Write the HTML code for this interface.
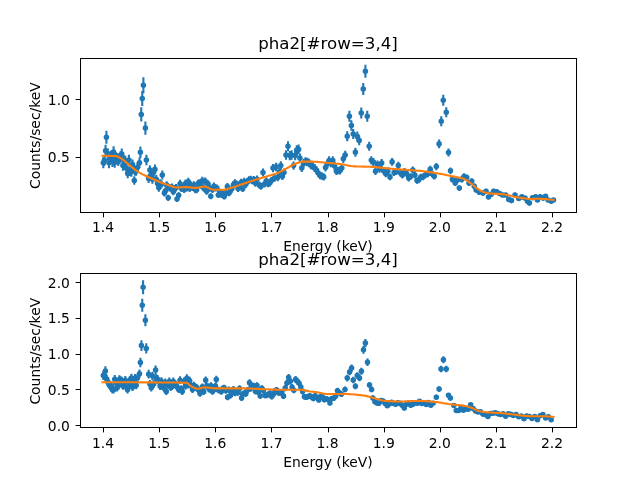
<!DOCTYPE html>
<html lang="en">
<head>
<meta charset="utf-8">
<title>pha2[#row=3,4]</title>
<style>
html,body{margin:0;padding:0;background:#fff;}
body{width:640px;height:480px;overflow:hidden;}
svg{display:block;font-family:"DejaVu Sans","Liberation Sans",sans-serif;}
.eb{fill:none;stroke:#1f77b4;stroke-width:2.08;}
.mk circle{fill:#1f77b4;stroke:#1f77b4;stroke-width:1.39;}
.md{fill:none;stroke:#ff7f0e;stroke-width:2.08;stroke-linejoin:round;stroke-linecap:square;}
.tk{fill:none;stroke:#000;stroke-width:1;}
.sp{fill:none;stroke:#000;stroke-width:1;}
.t10{font-size:13.889px;fill:#000;}
.t12{font-size:16.667px;fill:#000;}
.mid{text-anchor:middle;}
.end{text-anchor:end;}
</style>
</head>
<body>
<svg width="640" height="480" viewBox="0 0 640 480">
<rect width="640" height="480" fill="#fff"/>
<g class="ax">
<path class="eb" d="M103.3 157.37V168.32 M104.43 154.68V165.86 M105.56 144.71V156.71 M106.4 130.71V143.79 M107.84 148.62V160.27 M108.98 157.25V168.13 M110.12 151.3V162.69 M111.27 150.52V161.96 M112.43 156.16V167.09 M113.58 146.13V157.9 M114.74 157.03V167.85 M115.9 152.24V163.46 M117.07 152.99V164.13 M118.24 155.01V165.95 M119.41 153.05V164.15 M120.59 151.24V162.47 M121.77 148.42V159.87 M122.95 160.38V170.78 M124.14 155.41V166.24 M125.33 155.69V166.48 M126.52 163.16V173.26 M127.72 168.74V178.3 M128.92 154.67V165.49 M130.12 166.23V176 M131.33 167.07V176.75 M132.54 159.47V169.83 M134.3 176.14V184.86 M134.97 166.05V175.78 M136.2 166.04V175.75 M137.42 162.51V172.53 M139.5 157.53V167.97 M140.4 146.59V157.91 M141.25 107.36V121.44 M142.25 90.97V106.03 M143.4 77.34V93.16 M145.4 121.56V134.64 M146.4 154.71V165.29 M148.62 174.23V182.99 M149.89 165.15V174.78 M151.15 170.48V179.59 M152.42 175.04V183.68 M153.7 167.66V177.01 M154.98 164.53V174.15 M156.26 175.05V183.65 M157.55 179.54V187.65 M158.84 184.05V191.65 M160.13 179.37V187.47 M161.43 180.17V188.18 M162.3 170.61V179.59 M164.4 189.66V196.54 M165.35 187.52V194.65 M166.67 181.15V189 M168.2 194.71V200.89 M169.31 184.09V191.58 M170.64 184.38V191.83 M171.97 183.48V191.02 M173.3 188.15V195.14 M174.64 185.05V192.39 M175.99 184.03V191.47 M177 196.15V202.05 M178.69 192.13V198.57 M180.04 179.73V187.61 M181.4 184.76V192.07 M182.77 183.72V191.13 M184.14 185.91V193.07 M185.51 179.53V187.37 M186.89 184.21V191.54 M188.27 177.7V185.71 M189.66 184.66V191.91 M191.05 181.6V189.17 M192.45 183.61V190.95 M193.85 181.35V188.93 M195.25 186.1V193.14 M196.66 186.22V193.23 M198.07 179.67V187.38 M199.49 179.32V187.05 M200.91 181.09V188.63 M202.34 176.82V184.78 M203.77 184.73V191.86 M205.21 177.43V185.3 M206.65 187.99V194.71 M208.1 180.19V187.75 M209.55 184.64V191.72 M210.75 193.27V199.33 M212.47 186.16V193.05 M213.93 182.62V189.88 M215.4 184.48V191.53 M216.87 184.46V191.51 M218.35 191.91V198.08 M219.84 188.72V195.26 M221.33 191.6V197.78 M222.82 190.5V196.81 M224.2 193.54V199.46 M225.83 189.95V196.3 M227.33 183.03V190.14 M228.85 189.99V196.32 M230.37 187.76V194.33 M231.89 185.25V192.09 M233.42 181.09V188.35 M234.96 179.36V186.78 M236.5 180.41V187.71 M238.04 185.18V191.97 M239.59 181.03V188.24 M241.15 178.7V186.13 M242.71 185.34V192.08 M244.27 177.86V185.34 M245.84 180.77V187.95 M247.42 177.74V185.21 M249 176.28V183.87 M250.59 175.72V183.35 M252.18 176.82V184.34 M253.78 175.92V183.5 M255.38 179.5V186.74 M256.99 175.56V183.15 M259.25 181.5V188.5 M261 182.82V189.68 M263 168.42V176.58 M264.6 180.47V187.53 M266.3 177.32V184.68 M267.9 180.22V187.28 M269.7 179.54V186.66 M271.4 176.93V184.27 M273 163.88V172.32 M274.6 174.22V181.78 M276.1 162.65V171.15 M277.7 173.71V181.29 M279.3 167.97V176.03 M280.8 161.32V169.88 M282.4 172.42V180.08 M284 168.52V176.48 M286 150.34V159.66 M288 141.3V151.2 M289.8 150.98V160.22 M291.6 150.37V159.63 M293.6 161.38V169.82 M295.2 151.01V160.19 M296.75 145.22V154.78 M298.6 144.61V154.19 M299.9 153.52V162.48 M301.8 163.91V172.09 M303.6 158.72V167.28 M305.5 157.18V165.82 M307.3 157.7V166.3 M309.1 158.75V167.25 M310.9 160.83V169.17 M312.7 161.88V170.12 M314.6 163.97V172.03 M316.4 166.05V173.95 M318.2 169.18V176.82 M320 171.9V179.3 M321.8 172.32V179.68 M323.7 173.27V180.53 M325.5 163.49V171.51 M327.3 159.87V168.13 M329.1 156.35V164.85 M330.9 158.85V167.15 M332.8 156.37V164.83 M334.6 161.97V170.03 M336.4 167.44V175.06 M338.2 166.66V174.34 M340 166.77V174.43 M341.8 164.08V171.92 M343.3 154.5V163 M345.2 150.63V159.37 M347.25 131.3V141.2 M349.4 110.75V121.75 M351.4 120.16V130.64 M353.25 129.01V138.99 M355.4 147.83V156.67 M357.3 131.61V141.39 M359.2 135.84V145.36 M361.25 107.59V118.61 M363.25 82.91V95.09 M365.4 64.78V77.72 M367.25 110.85V121.65 M369.2 141.71V150.79 M371.3 156.22V164.38 M373.4 157.99V166.01 M375.5 167.59V174.91 M377.5 160.49V168.31 M379.6 165.27V172.73 M381.7 159.06V166.94 M383.8 167.36V174.64 M385.8 170.22V177.28 M387.9 167.37V174.63 M390 173.51V180.29 M392.1 157.96V165.84 M394.1 168.95V176.05 M396.2 167.92V175.08 M398.3 161.81V169.39 M400.4 169.49V176.51 M402.4 171.58V178.42 M404.5 167.95V175.05 M406.6 170.04V176.96 M408.7 174.82V181.38 M410.7 173.17V179.83 M412.8 166.43V173.57 M414.9 171.62V178.38 M417 177.45V183.75 M418.6 176.83V183.17 M420.8 173.72V180.28 M423 173.62V180.18 M425.4 171.66V178.34 M427.9 170.37V177.13 M430.25 165.86V172.94 M432.3 170.64V177.36 M434.25 172.98V179.52 M436.3 162.99V170.21 M439.1 139.59V148.21 M441.25 116.35V126.15 M443.25 94.86V105.64 M446.25 107.15V117.35 M448.5 148.48V156.52 M450.5 167.38V174.22 M452.4 176.31V182.49 M455.25 180.17V186.03 M457.4 176.95V183.05 M459.3 185.4V190.8 M461.75 176.34V182.46 M464 173.33V179.67 M466.75 174.38V180.62 M469 180.21V185.99 M471.75 178.29V184.21 M474.25 183.5V189 M476.1 187.43V192.57 M479.25 189.79V194.71 M483 190.69V195.51 M486.1 188.76V193.74 M488.5 194.8V199.2 M491.1 192.07V196.73 M493.6 188.78V193.72 M496.75 189.46V194.34 M499.6 191.15V195.85 M502.5 192.73V197.27 M505.6 192.73V197.27 M508.75 197.37V201.43 M511.5 198.65V202.55 M515 192.75V197.25 M518.75 196.44V200.56 M521.9 194.76V199.04 M525 196.03V200.17 M527.5 199.37V203.13 M529.4 201.33V204.87 M532.5 195.68V199.82 M535.6 194.79V199.01 M537.5 198.06V201.94 M540.25 194.8V199 M543.1 196.07V200.13 M545.6 194.13V198.37 M548.1 198.08V201.92 M551.25 199.41V203.09 M553.5 198.09V201.91"/>
<g class="mk"><circle cx="103.3" cy="162.84" r="2.08"/><circle cx="104.43" cy="160.27" r="2.08"/><circle cx="105.56" cy="150.71" r="2.08"/><circle cx="106.4" cy="137.25" r="2.08"/><circle cx="107.84" cy="154.45" r="2.08"/><circle cx="108.98" cy="162.69" r="2.08"/><circle cx="110.12" cy="156.99" r="2.08"/><circle cx="111.27" cy="156.24" r="2.08"/><circle cx="112.43" cy="161.62" r="2.08"/><circle cx="113.58" cy="152.01" r="2.08"/><circle cx="114.74" cy="162.44" r="2.08"/><circle cx="115.9" cy="157.85" r="2.08"/><circle cx="117.07" cy="158.56" r="2.08"/><circle cx="118.24" cy="160.48" r="2.08"/><circle cx="119.41" cy="158.6" r="2.08"/><circle cx="120.59" cy="156.86" r="2.08"/><circle cx="121.77" cy="154.15" r="2.08"/><circle cx="122.95" cy="165.58" r="2.08"/><circle cx="124.14" cy="160.82" r="2.08"/><circle cx="125.33" cy="161.08" r="2.08"/><circle cx="126.52" cy="168.21" r="2.08"/><circle cx="127.72" cy="173.52" r="2.08"/><circle cx="128.92" cy="160.08" r="2.08"/><circle cx="130.12" cy="171.11" r="2.08"/><circle cx="131.33" cy="171.91" r="2.08"/><circle cx="132.54" cy="164.65" r="2.08"/><circle cx="134.3" cy="180.5" r="2.08"/><circle cx="134.97" cy="170.92" r="2.08"/><circle cx="136.2" cy="170.9" r="2.08"/><circle cx="137.42" cy="167.52" r="2.08"/><circle cx="139.5" cy="162.75" r="2.08"/><circle cx="140.4" cy="152.25" r="2.08"/><circle cx="141.25" cy="114.4" r="2.08"/><circle cx="142.25" cy="98.5" r="2.08"/><circle cx="143.4" cy="85.25" r="2.08"/><circle cx="145.4" cy="128.1" r="2.08"/><circle cx="146.4" cy="160" r="2.08"/><circle cx="148.62" cy="178.61" r="2.08"/><circle cx="149.89" cy="169.96" r="2.08"/><circle cx="151.15" cy="175.03" r="2.08"/><circle cx="152.42" cy="179.36" r="2.08"/><circle cx="153.7" cy="172.33" r="2.08"/><circle cx="154.98" cy="169.34" r="2.08"/><circle cx="156.26" cy="179.35" r="2.08"/><circle cx="157.55" cy="183.59" r="2.08"/><circle cx="158.84" cy="187.85" r="2.08"/><circle cx="160.13" cy="183.42" r="2.08"/><circle cx="161.43" cy="184.18" r="2.08"/><circle cx="162.3" cy="175.1" r="2.08"/><circle cx="164.4" cy="193.1" r="2.08"/><circle cx="165.35" cy="191.09" r="2.08"/><circle cx="166.67" cy="185.08" r="2.08"/><circle cx="168.2" cy="197.8" r="2.08"/><circle cx="169.31" cy="187.83" r="2.08"/><circle cx="170.64" cy="188.11" r="2.08"/><circle cx="171.97" cy="187.25" r="2.08"/><circle cx="173.3" cy="191.65" r="2.08"/><circle cx="174.64" cy="188.72" r="2.08"/><circle cx="175.99" cy="187.75" r="2.08"/><circle cx="177" cy="199.1" r="2.08"/><circle cx="178.69" cy="195.35" r="2.08"/><circle cx="180.04" cy="183.67" r="2.08"/><circle cx="181.4" cy="188.42" r="2.08"/><circle cx="182.77" cy="187.42" r="2.08"/><circle cx="184.14" cy="189.49" r="2.08"/><circle cx="185.51" cy="183.45" r="2.08"/><circle cx="186.89" cy="187.88" r="2.08"/><circle cx="188.27" cy="181.7" r="2.08"/><circle cx="189.66" cy="188.29" r="2.08"/><circle cx="191.05" cy="185.38" r="2.08"/><circle cx="192.45" cy="187.28" r="2.08"/><circle cx="193.85" cy="185.14" r="2.08"/><circle cx="195.25" cy="189.62" r="2.08"/><circle cx="196.66" cy="189.72" r="2.08"/><circle cx="198.07" cy="183.52" r="2.08"/><circle cx="199.49" cy="183.19" r="2.08"/><circle cx="200.91" cy="184.86" r="2.08"/><circle cx="202.34" cy="180.8" r="2.08"/><circle cx="203.77" cy="188.3" r="2.08"/><circle cx="205.21" cy="181.37" r="2.08"/><circle cx="206.65" cy="191.35" r="2.08"/><circle cx="208.1" cy="183.97" r="2.08"/><circle cx="209.55" cy="188.18" r="2.08"/><circle cx="210.75" cy="196.3" r="2.08"/><circle cx="212.47" cy="189.6" r="2.08"/><circle cx="213.93" cy="186.25" r="2.08"/><circle cx="215.4" cy="188.01" r="2.08"/><circle cx="216.87" cy="187.99" r="2.08"/><circle cx="218.35" cy="195" r="2.08"/><circle cx="219.84" cy="191.99" r="2.08"/><circle cx="221.33" cy="194.69" r="2.08"/><circle cx="222.82" cy="193.65" r="2.08"/><circle cx="224.2" cy="196.5" r="2.08"/><circle cx="225.83" cy="193.12" r="2.08"/><circle cx="227.33" cy="186.59" r="2.08"/><circle cx="228.85" cy="193.16" r="2.08"/><circle cx="230.37" cy="191.04" r="2.08"/><circle cx="231.89" cy="188.67" r="2.08"/><circle cx="233.42" cy="184.72" r="2.08"/><circle cx="234.96" cy="183.07" r="2.08"/><circle cx="236.5" cy="184.06" r="2.08"/><circle cx="238.04" cy="188.58" r="2.08"/><circle cx="239.59" cy="184.64" r="2.08"/><circle cx="241.15" cy="182.42" r="2.08"/><circle cx="242.71" cy="188.71" r="2.08"/><circle cx="244.27" cy="181.6" r="2.08"/><circle cx="245.84" cy="184.36" r="2.08"/><circle cx="247.42" cy="181.47" r="2.08"/><circle cx="249" cy="180.07" r="2.08"/><circle cx="250.59" cy="179.53" r="2.08"/><circle cx="252.18" cy="180.58" r="2.08"/><circle cx="253.78" cy="179.71" r="2.08"/><circle cx="255.38" cy="183.12" r="2.08"/><circle cx="256.99" cy="179.36" r="2.08"/><circle cx="259.25" cy="185" r="2.08"/><circle cx="261" cy="186.25" r="2.08"/><circle cx="263" cy="172.5" r="2.08"/><circle cx="264.6" cy="184" r="2.08"/><circle cx="266.3" cy="181" r="2.08"/><circle cx="267.9" cy="183.75" r="2.08"/><circle cx="269.7" cy="183.1" r="2.08"/><circle cx="271.4" cy="180.6" r="2.08"/><circle cx="273" cy="168.1" r="2.08"/><circle cx="274.6" cy="178" r="2.08"/><circle cx="276.1" cy="166.9" r="2.08"/><circle cx="277.7" cy="177.5" r="2.08"/><circle cx="279.3" cy="172" r="2.08"/><circle cx="280.8" cy="165.6" r="2.08"/><circle cx="282.4" cy="176.25" r="2.08"/><circle cx="284" cy="172.5" r="2.08"/><circle cx="286" cy="155" r="2.08"/><circle cx="288" cy="146.25" r="2.08"/><circle cx="289.8" cy="155.6" r="2.08"/><circle cx="291.6" cy="155" r="2.08"/><circle cx="293.6" cy="165.6" r="2.08"/><circle cx="295.2" cy="155.6" r="2.08"/><circle cx="296.75" cy="150" r="2.08"/><circle cx="298.6" cy="149.4" r="2.08"/><circle cx="299.9" cy="158" r="2.08"/><circle cx="301.8" cy="168" r="2.08"/><circle cx="303.6" cy="163" r="2.08"/><circle cx="305.5" cy="161.5" r="2.08"/><circle cx="307.3" cy="162" r="2.08"/><circle cx="309.1" cy="163" r="2.08"/><circle cx="310.9" cy="165" r="2.08"/><circle cx="312.7" cy="166" r="2.08"/><circle cx="314.6" cy="168" r="2.08"/><circle cx="316.4" cy="170" r="2.08"/><circle cx="318.2" cy="173" r="2.08"/><circle cx="320" cy="175.6" r="2.08"/><circle cx="321.8" cy="176" r="2.08"/><circle cx="323.7" cy="176.9" r="2.08"/><circle cx="325.5" cy="167.5" r="2.08"/><circle cx="327.3" cy="164" r="2.08"/><circle cx="329.1" cy="160.6" r="2.08"/><circle cx="330.9" cy="163" r="2.08"/><circle cx="332.8" cy="160.6" r="2.08"/><circle cx="334.6" cy="166" r="2.08"/><circle cx="336.4" cy="171.25" r="2.08"/><circle cx="338.2" cy="170.5" r="2.08"/><circle cx="340" cy="170.6" r="2.08"/><circle cx="341.8" cy="168" r="2.08"/><circle cx="343.3" cy="158.75" r="2.08"/><circle cx="345.2" cy="155" r="2.08"/><circle cx="347.25" cy="136.25" r="2.08"/><circle cx="349.4" cy="116.25" r="2.08"/><circle cx="351.4" cy="125.4" r="2.08"/><circle cx="353.25" cy="134" r="2.08"/><circle cx="355.4" cy="152.25" r="2.08"/><circle cx="357.3" cy="136.5" r="2.08"/><circle cx="359.2" cy="140.6" r="2.08"/><circle cx="361.25" cy="113.1" r="2.08"/><circle cx="363.25" cy="89" r="2.08"/><circle cx="365.4" cy="71.25" r="2.08"/><circle cx="367.25" cy="116.25" r="2.08"/><circle cx="369.2" cy="146.25" r="2.08"/><circle cx="371.3" cy="160.3" r="2.08"/><circle cx="373.4" cy="162" r="2.08"/><circle cx="375.5" cy="171.25" r="2.08"/><circle cx="377.5" cy="164.4" r="2.08"/><circle cx="379.6" cy="169" r="2.08"/><circle cx="381.7" cy="163" r="2.08"/><circle cx="383.8" cy="171" r="2.08"/><circle cx="385.8" cy="173.75" r="2.08"/><circle cx="387.9" cy="171" r="2.08"/><circle cx="390" cy="176.9" r="2.08"/><circle cx="392.1" cy="161.9" r="2.08"/><circle cx="394.1" cy="172.5" r="2.08"/><circle cx="396.2" cy="171.5" r="2.08"/><circle cx="398.3" cy="165.6" r="2.08"/><circle cx="400.4" cy="173" r="2.08"/><circle cx="402.4" cy="175" r="2.08"/><circle cx="404.5" cy="171.5" r="2.08"/><circle cx="406.6" cy="173.5" r="2.08"/><circle cx="408.7" cy="178.1" r="2.08"/><circle cx="410.7" cy="176.5" r="2.08"/><circle cx="412.8" cy="170" r="2.08"/><circle cx="414.9" cy="175" r="2.08"/><circle cx="417" cy="180.6" r="2.08"/><circle cx="418.6" cy="180" r="2.08"/><circle cx="420.8" cy="177" r="2.08"/><circle cx="423" cy="176.9" r="2.08"/><circle cx="425.4" cy="175" r="2.08"/><circle cx="427.9" cy="173.75" r="2.08"/><circle cx="430.25" cy="169.4" r="2.08"/><circle cx="432.3" cy="174" r="2.08"/><circle cx="434.25" cy="176.25" r="2.08"/><circle cx="436.3" cy="166.6" r="2.08"/><circle cx="439.1" cy="143.9" r="2.08"/><circle cx="441.25" cy="121.25" r="2.08"/><circle cx="443.25" cy="100.25" r="2.08"/><circle cx="446.25" cy="112.25" r="2.08"/><circle cx="448.5" cy="152.5" r="2.08"/><circle cx="450.5" cy="170.8" r="2.08"/><circle cx="452.4" cy="179.4" r="2.08"/><circle cx="455.25" cy="183.1" r="2.08"/><circle cx="457.4" cy="180" r="2.08"/><circle cx="459.3" cy="188.1" r="2.08"/><circle cx="461.75" cy="179.4" r="2.08"/><circle cx="464" cy="176.5" r="2.08"/><circle cx="466.75" cy="177.5" r="2.08"/><circle cx="469" cy="183.1" r="2.08"/><circle cx="471.75" cy="181.25" r="2.08"/><circle cx="474.25" cy="186.25" r="2.08"/><circle cx="476.1" cy="190" r="2.08"/><circle cx="479.25" cy="192.25" r="2.08"/><circle cx="483" cy="193.1" r="2.08"/><circle cx="486.1" cy="191.25" r="2.08"/><circle cx="488.5" cy="197" r="2.08"/><circle cx="491.1" cy="194.4" r="2.08"/><circle cx="493.6" cy="191.25" r="2.08"/><circle cx="496.75" cy="191.9" r="2.08"/><circle cx="499.6" cy="193.5" r="2.08"/><circle cx="502.5" cy="195" r="2.08"/><circle cx="505.6" cy="195" r="2.08"/><circle cx="508.75" cy="199.4" r="2.08"/><circle cx="511.5" cy="200.6" r="2.08"/><circle cx="515" cy="195" r="2.08"/><circle cx="518.75" cy="198.5" r="2.08"/><circle cx="521.9" cy="196.9" r="2.08"/><circle cx="525" cy="198.1" r="2.08"/><circle cx="527.5" cy="201.25" r="2.08"/><circle cx="529.4" cy="203.1" r="2.08"/><circle cx="532.5" cy="197.75" r="2.08"/><circle cx="535.6" cy="196.9" r="2.08"/><circle cx="537.5" cy="200" r="2.08"/><circle cx="540.25" cy="196.9" r="2.08"/><circle cx="543.1" cy="198.1" r="2.08"/><circle cx="545.6" cy="196.25" r="2.08"/><circle cx="548.1" cy="200" r="2.08"/><circle cx="551.25" cy="201.25" r="2.08"/><circle cx="553.5" cy="200" r="2.08"/></g>
<polyline class="md" points="102.5,155.8 103.63,155.8 104.76,155.81 105.89,155.82 107.02,155.83 108.15,155.84 109.28,155.85 110.41,155.87 111.54,155.89 112.67,155.92 113.8,155.95 114.93,155.98 116.06,156.06 117.19,156.38 118.32,156.9 119.45,157.52 120.59,158.15 121.72,158.83 122.85,159.62 123.98,160.5 125.11,161.41 126.24,162.34 127.37,163.25 128.5,164.22 129.63,165.22 130.76,166.23 131.89,167.2 133.02,168.11 134.15,168.98 135.28,169.83 136.41,170.64 137.54,171.42 138.67,172.15 139.8,172.82 140.93,173.45 142.06,174.05 143.19,174.62 144.32,175.17 145.45,175.71 146.58,176.24 147.71,176.77 148.84,177.29 149.97,177.81 151.1,178.32 152.23,178.82 153.36,179.31 154.49,179.8 155.63,180.28 156.76,180.74 157.89,181.2 159.02,181.66 160.15,182.11 161.28,182.56 162.41,182.99 163.54,183.42 164.67,183.84 165.8,184.25 166.93,184.64 168.06,185.02 169.19,185.42 170.32,185.85 171.45,186.29 172.58,186.7 173.71,187.05 174.84,187.32 175.97,187.48 177.1,187.5 178.23,187.47 179.36,187.42 180.49,187.35 181.62,187.28 182.75,187.21 183.88,187.15 185.01,187.11 186.14,187.1 187.27,187.14 188.4,187.23 189.54,187.35 190.67,187.5 191.8,187.64 192.93,187.76 194.06,187.86 195.19,187.9 196.32,187.86 197.45,187.74 198.58,187.55 199.71,187.33 200.84,187.09 201.97,186.88 203.1,186.71 204.23,186.61 205.36,186.64 206.49,186.92 207.62,187.39 208.75,187.97 209.88,188.58 211.01,189.13 212.14,189.55 213.27,189.74 214.4,189.75 215.53,189.75 216.66,189.75 217.79,189.75 218.92,189.75 220.05,189.75 221.18,189.75 222.31,189.75 223.44,189.74 224.58,189.63 225.71,189.43 226.84,189.16 227.97,188.83 229.1,188.48 230.23,188.12 231.36,187.76 232.49,187.43 233.62,187.1 234.75,186.75 235.88,186.38 237.01,186 238.14,185.61 239.27,185.21 240.4,184.82 241.53,184.42 242.66,184.03 243.79,183.65 244.92,183.27 246.05,182.89 247.18,182.51 248.31,182.13 249.44,181.75 250.57,181.37 251.7,180.99 252.83,180.62 253.96,180.25 255.09,179.89 256.22,179.54 257.35,179.19 258.48,178.85 259.62,178.51 260.75,178.18 261.88,177.84 263.01,177.5 264.14,177.17 265.27,176.82 266.4,176.48 267.53,176.14 268.66,175.82 269.79,175.49 270.92,175.17 272.05,174.84 273.18,174.5 274.31,174.14 275.44,173.76 276.57,173.36 277.7,172.92 278.83,172.43 279.96,171.9 281.09,171.33 282.22,170.74 283.35,170.13 284.48,169.52 285.61,168.91 286.74,168.33 287.87,167.72 289,167.08 290.13,166.42 291.26,165.76 292.39,165.13 293.53,164.55 294.66,164.02 295.79,163.57 296.92,163.18 298.05,162.79 299.18,162.41 300.31,162.08 301.44,161.81 302.57,161.65 303.7,161.6 304.83,161.6 305.96,161.6 307.09,161.6 308.22,161.6 309.35,161.6 310.48,161.6 311.61,161.6 312.74,161.63 313.87,161.67 315,161.73 316.13,161.8 317.26,161.88 318.39,161.98 319.52,162.08 320.65,162.19 321.78,162.3 322.91,162.42 324.04,162.53 325.17,162.63 326.3,162.73 327.43,162.83 328.57,162.92 329.7,163.02 330.83,163.12 331.96,163.22 333.09,163.32 334.22,163.43 335.35,163.54 336.48,163.66 337.61,163.78 338.74,163.9 339.87,164.04 341,164.18 342.13,164.35 343.26,164.56 344.39,164.78 345.52,165.01 346.65,165.25 347.78,165.48 348.91,165.7 350.04,165.9 351.17,166.07 352.3,166.21 353.43,166.3 354.56,166.36 355.69,166.41 356.82,166.45 357.95,166.49 359.08,166.53 360.21,166.56 361.34,166.58 362.47,166.61 363.61,166.63 364.74,166.66 365.87,166.68 367,166.71 368.13,166.74 369.26,166.78 370.39,166.82 371.52,166.87 372.65,166.92 373.78,166.99 374.91,167.07 376.04,167.16 377.17,167.27 378.3,167.38 379.43,167.5 380.56,167.62 381.69,167.75 382.82,167.88 383.95,168.01 385.08,168.14 386.21,168.27 387.34,168.4 388.47,168.51 389.6,168.63 390.73,168.73 391.86,168.82 392.99,168.91 394.12,169 395.25,169.08 396.38,169.16 397.52,169.24 398.65,169.32 399.78,169.4 400.91,169.48 402.04,169.55 403.17,169.63 404.3,169.71 405.43,169.79 406.56,169.87 407.69,169.95 408.82,170.03 409.95,170.12 411.08,170.2 412.21,170.28 413.34,170.36 414.47,170.45 415.6,170.53 416.73,170.62 417.86,170.71 418.99,170.81 420.12,170.91 421.25,171.03 422.38,171.15 423.51,171.27 424.64,171.41 425.77,171.56 426.9,171.71 428.03,171.87 429.16,172.03 430.29,172.2 431.42,172.37 432.56,172.55 433.69,172.73 434.82,172.91 435.95,173.09 437.08,173.28 438.21,173.47 439.34,173.68 440.47,173.89 441.6,174.1 442.73,174.32 443.86,174.55 444.99,174.78 446.12,175.01 447.25,175.25 448.38,175.48 449.51,175.72 450.64,175.95 451.77,176.17 452.9,176.38 454.03,176.58 455.16,176.78 456.29,176.99 457.42,177.2 458.55,177.43 459.68,177.68 460.81,177.96 461.94,178.27 463.07,178.61 464.2,179.02 465.33,179.56 466.46,180.21 467.6,180.95 468.73,181.75 469.86,182.57 470.99,183.39 472.12,184.28 473.25,185.26 474.38,186.28 475.51,187.26 476.64,188.13 477.77,188.92 478.9,189.7 480.03,190.41 481.16,191.03 482.29,191.51 483.42,191.91 484.55,192.28 485.68,192.61 486.81,192.89 487.94,193.13 489.07,193.32 490.2,193.45 491.33,193.54 492.46,193.62 493.59,193.69 494.72,193.74 495.85,193.79 496.98,193.84 498.11,193.9 499.24,193.97 500.37,194.05 501.51,194.15 502.64,194.27 503.77,194.41 504.9,194.57 506.03,194.75 507.16,194.94 508.29,195.16 509.42,195.43 510.55,195.73 511.68,196.06 512.81,196.37 513.94,196.67 515.07,196.91 516.2,197.13 517.33,197.32 518.46,197.51 519.59,197.68 520.72,197.85 521.85,198.01 522.98,198.17 524.11,198.34 525.24,198.52 526.37,198.7 527.5,198.84 528.63,198.95 529.76,199 530.89,198.99 532.02,198.96 533.15,198.9 534.28,198.85 535.41,198.8 536.55,198.76 537.68,198.75 538.81,198.77 539.94,198.8 541.07,198.86 542.2,198.92 543.33,198.99 544.46,199.07 545.59,199.14 546.72,199.22 547.85,199.32 548.98,199.43 550.11,199.55 551.24,199.68 552.37,199.82 553.5,199.97"/>
<path class="tk" d="M103.5 212.5v4.86M159.5 212.5v4.86M215.5 212.5v4.86M271.5 212.5v4.86M328.5 212.5v4.86M384.5 212.5v4.86M440.5 212.5v4.86M496.5 212.5v4.86M552.5 212.5v4.86M80.5 157.5h-4.86M80.5 99.5h-4.86"/>
<rect class="sp" x="80.5" y="58.5" width="496" height="154"/>
<text class="t10 mid" x="103.1" y="231.88">1.4</text>
<text class="t10 mid" x="159.22" y="231.88">1.5</text>
<text class="t10 mid" x="215.34" y="231.88">1.6</text>
<text class="t10 mid" x="271.46" y="231.88">1.7</text>
<text class="t10 mid" x="327.58" y="231.88">1.8</text>
<text class="t10 mid" x="383.7" y="231.88">1.9</text>
<text class="t10 mid" x="439.82" y="231.88">2.0</text>
<text class="t10 mid" x="495.94" y="231.88">2.1</text>
<text class="t10 mid" x="552.06" y="231.88">2.2</text>
<text class="t10 end" x="69.9" y="161.83">0.5</text>
<text class="t10 end" x="69.9" y="105.48">1.0</text>
<text class="t10 mid" x="328" y="250.87">Energy (keV)</text>
<text class="t10 mid" transform="translate(39.75 135.6) rotate(-90)">Counts/sec/keV</text>
<text class="t12 mid" x="328" y="49.27">pha2[#row=3,4]</text>
</g>
<g class="ax">
<path class="eb" d="M103.3 371.07V380.05 M104.43 371.04V380.02 M105.4 366.34V375.66 M106.7 374.7V383.35 M107.84 377.55V385.95 M108.98 380.43V388.57 M110.12 382.02V390.01 M111.27 381.73V389.73 M112.43 385.95V393.56 M113.58 385.92V393.52 M114.74 374.94V383.48 M115.9 378.95V387.15 M117.07 383.78V391.54 M118.24 381.48V389.43 M119.41 375.31V383.77 M120.59 376.2V384.57 M121.77 376.83V385.14 M122.95 382V389.86 M124.14 378.26V386.42 M125.33 376.12V384.45 M126.52 383.34V391.05 M127.5 385.97V393.43 M128.92 377.58V385.75 M130.12 380.9V388.78 M131.33 373.84V382.29 M132.54 383.33V390.97 M133.76 376.2V384.43 M134.97 374.01V382.41 M136.2 381.45V389.23 M137.42 373.76V382.15 M139.5 369.4V378.1 M140.4 357.74V367.26 M141.4 340.29V350.91 M142.25 298.81V311.69 M143.1 280.37V294.13 M145.4 314.23V326.27 M146.25 343.21V353.59 M148.62 369.87V378.43 M149.89 380V387.76 M151.3 384.1V391.5 M152.42 371.87V380.25 M153.7 380.21V387.92 M155.6 365.6V374.4 M156.26 374.32V382.47 M157.55 375.11V383.19 M158.84 377.86V385.7 M160.13 382.56V390.01 M161.43 377.31V385.18 M162.73 382.67V390.09 M164.04 384.5V391.75 M165.35 378.54V386.27 M166.3 388.14V395.06 M167.99 381.28V388.77 M169.31 377.51V385.29 M170.64 383.61V390.88 M171.97 382.72V390.05 M173.3 377.57V385.31 M174.64 380.74V388.21 M175.99 380.77V388.23 M177.33 383.69V390.89 M178.69 386.08V393.07 M180.04 376.31V384.08 M181.4 385.36V392.39 M182.25 388.21V394.99 M184.14 377.38V385.02 M185.51 382.46V389.69 M186.89 374.37V382.22 M188.27 381.22V388.53 M189.66 376.85V384.49 M191.05 382.01V389.23 M192.45 386.05V392.92 M193.85 381.75V388.96 M195.25 383.65V390.7 M196.66 383.96V390.98 M198.07 386.13V392.96 M200 390.17V396.63 M200.91 387.91V394.56 M202.34 383.38V390.4 M203.77 388.41V395 M205.7 376.54V384.06 M206.65 382.63V389.67 M208.1 383.35V390.32 M209.55 386.09V392.82 M211 382.16V389.2 M212.47 388.26V394.79 M213.93 386.5V393.17 M215.4 382.64V389.61 M216.3 375.66V383.14 M218.35 386.7V393.32 M219.84 387.24V393.81 M221.33 388.18V394.65 M222.82 385.18V391.89 M224.32 384.73V391.47 M225.83 387.19V393.71 M227.6 394.25V400.15 M228.85 386.43V392.99 M230.37 392.39V398.44 M231.89 387.32V393.79 M233.42 386.11V392.67 M234.96 390.15V396.36 M236.5 388.78V395.1 M238.04 389.45V395.7 M239.59 385.16V391.75 M241.6 395.24V400.96 M242.71 390.92V397.01 M244.27 390.17V396.31 M245.84 390.84V396.91 M247.42 386.98V393.36 M249.5 379.27V386.23 M250.59 385.15V391.65 M252.18 382.44V389.14 M253.78 382.64V389.32 M255.38 388.19V394.42 M256.99 382.25V388.93 M258.61 389.47V395.58 M260.23 393.04V398.84 M261.85 385.15V391.57 M263.48 387.42V393.65 M265.12 392.48V398.29 M266.76 392.39V398.2 M268.41 391.39V397.27 M270.07 390.25V396.21 M271.73 393.74V399.4 M273.39 391.27V397.13 M275.06 387.72V393.86 M276.74 387.06V393.23 M278.42 389.81V395.75 M280.11 389.88V395.81 M281.81 389.28V395.25 M283.51 393.32V398.94 M285.22 384.93V391.21 M286.93 379.58V386.23 M288.65 374.05V381.07 M290.37 377.93V384.67 M292.1 384V390.3 M293.84 387.17V393.23 M295.59 376.05V382.89 M297.34 377.93V384.63 M299.09 379.94V386.48 M300.85 383.88V390.13 M302.62 388.53V394.43 M304.4 393.97V399.41 M306.18 394.52V399.91 M307.97 393.89V399.32 M309.76 393.02V398.52 M311.56 394.25V399.64 M313.37 395.96V401.19 M315.19 393.15V398.6 M317.01 395.23V400.5 M318.84 397.53V402.6 M320.67 393.8V399.16 M322.51 394.34V399.65 M324.36 397.27V402.33 M326.21 396.16V401.3 M328.07 397V402.06 M329.94 400.59V405.33 M331.82 396V401.12 M333.7 395.67V400.81 M335.59 393.66V398.96 M337.49 387.8V393.54 M339.39 389.89V395.46 M341.3 391.42V396.86 M345 386.51V392.29 M347.25 374.82V381.38 M349.6 368.43V375.37 M351.6 364.53V371.67 M353.25 376.8V383.2 M355.4 383.27V389.23 M357.25 372.27V378.93 M359.5 374.86V381.34 M361.4 367.8V374.7 M363.5 345.72V353.78 M365.4 338.92V347.28 M367.5 358.57V365.93 M369.5 382.02V387.98 M371.6 386.58V392.22 M372.87 395.61V400.56 M374.9 399.45V404.07 M376.95 400.8V405.3 M379 400.98V405.45 M381.06 398.25V402.95 M383.13 398.69V403.34 M385.21 401.39V405.8 M387.3 403.61V407.81 M389.39 401.74V406.1 M391.49 400.08V404.58 M393.6 401.25V405.63 M395.72 402.1V406.4 M397.85 400.43V404.87 M399.98 401.2V405.56 M402.13 403.2V407.38 M404.28 406.17V410.06 M406.44 402.19V406.44 M408.61 400.8V405.16 M410.79 403.23V407.37 M412.98 402.19V406.41 M415.17 400.67V405.01 M417.38 401.06V405.36 M419.59 399.16V403.61 M421.81 401.31V405.58 M424.04 400.89V405.18 M426.28 402.43V406.58 M428.53 400.31V404.63 M430.79 403.23V407.29 M433.06 401.15V405.39 M436.3 394.84V399.56 M439.1 386.45V391.75 M441 365.75V372.25 M443.4 356.21V363.19 M446.25 365.77V372.23 M448.5 392.9V397.7 M450.4 395.81V400.39 M453.89 403.52V407.47 M456.26 408.75V412.21 M458.63 408.86V412.3 M461.01 405.98V409.68 M463.4 408.41V411.88 M465.81 407.06V410.65 M468.22 407.36V410.91 M470.64 402.78V406.74 M473.08 406.77V410.37 M475.52 409.42V412.75 M477.97 410.37V413.6 M480.44 410.21V413.45 M482.91 412.63V415.6 M485.4 413.13V416.04 M487.89 415.1V417.77 M490.4 411.97V414.99 M492.92 411.78V414.82 M495.44 411.23V414.32 M497.98 412.38V415.34 M500.53 413.08V415.95 M503.09 412.41V415.35 M505.67 414.83V417.49 M508.25 412.4V415.33 M510.84 412.95V415.82 M513.45 414.18V416.9 M516.07 412.98V415.82 M518.7 415.44V418 M521.34 414.76V417.39 M523.99 417.68V419.94 M526.65 414.59V417.23 M529.33 415.23V417.78 M532.02 417.4V419.68 M534.71 415.26V417.8 M537.43 418.73V420.81 M540.15 414.33V416.97 M542.88 413.16V415.92 M545.63 416.78V419.11 M548.39 415.45V417.94 M551.17 418.77V420.82"/>
<g class="mk"><circle cx="103.3" cy="375.56" r="2.08"/><circle cx="104.43" cy="375.53" r="2.08"/><circle cx="105.4" cy="371" r="2.08"/><circle cx="106.7" cy="379.02" r="2.08"/><circle cx="107.84" cy="381.75" r="2.08"/><circle cx="108.98" cy="384.5" r="2.08"/><circle cx="110.12" cy="386.01" r="2.08"/><circle cx="111.27" cy="385.73" r="2.08"/><circle cx="112.43" cy="389.76" r="2.08"/><circle cx="113.58" cy="389.72" r="2.08"/><circle cx="114.74" cy="379.21" r="2.08"/><circle cx="115.9" cy="383.05" r="2.08"/><circle cx="117.07" cy="387.66" r="2.08"/><circle cx="118.24" cy="385.45" r="2.08"/><circle cx="119.41" cy="379.54" r="2.08"/><circle cx="120.59" cy="380.39" r="2.08"/><circle cx="121.77" cy="380.98" r="2.08"/><circle cx="122.95" cy="385.93" r="2.08"/><circle cx="124.14" cy="382.34" r="2.08"/><circle cx="125.33" cy="380.28" r="2.08"/><circle cx="126.52" cy="387.2" r="2.08"/><circle cx="127.5" cy="389.7" r="2.08"/><circle cx="128.92" cy="381.66" r="2.08"/><circle cx="130.12" cy="384.84" r="2.08"/><circle cx="131.33" cy="378.07" r="2.08"/><circle cx="132.54" cy="387.15" r="2.08"/><circle cx="133.76" cy="380.32" r="2.08"/><circle cx="134.97" cy="378.21" r="2.08"/><circle cx="136.2" cy="385.34" r="2.08"/><circle cx="137.42" cy="377.96" r="2.08"/><circle cx="139.5" cy="373.75" r="2.08"/><circle cx="140.4" cy="362.5" r="2.08"/><circle cx="141.4" cy="345.6" r="2.08"/><circle cx="142.25" cy="305.25" r="2.08"/><circle cx="143.1" cy="287.25" r="2.08"/><circle cx="145.4" cy="320.25" r="2.08"/><circle cx="146.25" cy="348.4" r="2.08"/><circle cx="148.62" cy="374.15" r="2.08"/><circle cx="149.89" cy="383.88" r="2.08"/><circle cx="151.3" cy="387.8" r="2.08"/><circle cx="152.42" cy="376.06" r="2.08"/><circle cx="153.7" cy="384.07" r="2.08"/><circle cx="155.6" cy="370" r="2.08"/><circle cx="156.26" cy="378.39" r="2.08"/><circle cx="157.55" cy="379.15" r="2.08"/><circle cx="158.84" cy="381.78" r="2.08"/><circle cx="160.13" cy="386.28" r="2.08"/><circle cx="161.43" cy="381.25" r="2.08"/><circle cx="162.73" cy="386.38" r="2.08"/><circle cx="164.04" cy="388.13" r="2.08"/><circle cx="165.35" cy="382.4" r="2.08"/><circle cx="166.3" cy="391.6" r="2.08"/><circle cx="167.99" cy="385.02" r="2.08"/><circle cx="169.31" cy="381.4" r="2.08"/><circle cx="170.64" cy="387.25" r="2.08"/><circle cx="171.97" cy="386.38" r="2.08"/><circle cx="173.3" cy="381.44" r="2.08"/><circle cx="174.64" cy="384.48" r="2.08"/><circle cx="175.99" cy="384.5" r="2.08"/><circle cx="177.33" cy="387.29" r="2.08"/><circle cx="178.69" cy="389.58" r="2.08"/><circle cx="180.04" cy="380.2" r="2.08"/><circle cx="181.4" cy="388.88" r="2.08"/><circle cx="182.25" cy="391.6" r="2.08"/><circle cx="184.14" cy="381.2" r="2.08"/><circle cx="185.51" cy="386.08" r="2.08"/><circle cx="186.89" cy="378.29" r="2.08"/><circle cx="188.27" cy="384.88" r="2.08"/><circle cx="189.66" cy="380.67" r="2.08"/><circle cx="191.05" cy="385.62" r="2.08"/><circle cx="192.45" cy="389.49" r="2.08"/><circle cx="193.85" cy="385.36" r="2.08"/><circle cx="195.25" cy="387.17" r="2.08"/><circle cx="196.66" cy="387.47" r="2.08"/><circle cx="198.07" cy="389.55" r="2.08"/><circle cx="200" cy="393.4" r="2.08"/><circle cx="200.91" cy="391.24" r="2.08"/><circle cx="202.34" cy="386.89" r="2.08"/><circle cx="203.77" cy="391.71" r="2.08"/><circle cx="205.7" cy="380.3" r="2.08"/><circle cx="206.65" cy="386.15" r="2.08"/><circle cx="208.1" cy="386.83" r="2.08"/><circle cx="209.55" cy="389.46" r="2.08"/><circle cx="211" cy="385.68" r="2.08"/><circle cx="212.47" cy="391.53" r="2.08"/><circle cx="213.93" cy="389.83" r="2.08"/><circle cx="215.4" cy="386.12" r="2.08"/><circle cx="216.3" cy="379.4" r="2.08"/><circle cx="218.35" cy="390.01" r="2.08"/><circle cx="219.84" cy="390.53" r="2.08"/><circle cx="221.33" cy="391.41" r="2.08"/><circle cx="222.82" cy="388.54" r="2.08"/><circle cx="224.32" cy="388.1" r="2.08"/><circle cx="225.83" cy="390.45" r="2.08"/><circle cx="227.6" cy="397.2" r="2.08"/><circle cx="228.85" cy="389.71" r="2.08"/><circle cx="230.37" cy="395.42" r="2.08"/><circle cx="231.89" cy="390.55" r="2.08"/><circle cx="233.42" cy="389.39" r="2.08"/><circle cx="234.96" cy="393.25" r="2.08"/><circle cx="236.5" cy="391.94" r="2.08"/><circle cx="238.04" cy="392.58" r="2.08"/><circle cx="239.59" cy="388.46" r="2.08"/><circle cx="241.6" cy="398.1" r="2.08"/><circle cx="242.71" cy="393.97" r="2.08"/><circle cx="244.27" cy="393.24" r="2.08"/><circle cx="245.84" cy="393.87" r="2.08"/><circle cx="247.42" cy="390.17" r="2.08"/><circle cx="249.5" cy="382.75" r="2.08"/><circle cx="250.59" cy="388.4" r="2.08"/><circle cx="252.18" cy="385.79" r="2.08"/><circle cx="253.78" cy="385.98" r="2.08"/><circle cx="255.38" cy="391.31" r="2.08"/><circle cx="256.99" cy="385.59" r="2.08"/><circle cx="258.61" cy="392.52" r="2.08"/><circle cx="260.23" cy="395.94" r="2.08"/><circle cx="261.85" cy="388.36" r="2.08"/><circle cx="263.48" cy="390.54" r="2.08"/><circle cx="265.12" cy="395.39" r="2.08"/><circle cx="266.76" cy="395.29" r="2.08"/><circle cx="268.41" cy="394.33" r="2.08"/><circle cx="270.07" cy="393.23" r="2.08"/><circle cx="271.73" cy="396.57" r="2.08"/><circle cx="273.39" cy="394.2" r="2.08"/><circle cx="275.06" cy="390.79" r="2.08"/><circle cx="276.74" cy="390.14" r="2.08"/><circle cx="278.42" cy="392.78" r="2.08"/><circle cx="280.11" cy="392.85" r="2.08"/><circle cx="281.81" cy="392.26" r="2.08"/><circle cx="283.51" cy="396.13" r="2.08"/><circle cx="285.22" cy="388.07" r="2.08"/><circle cx="286.93" cy="382.9" r="2.08"/><circle cx="288.65" cy="377.56" r="2.08"/><circle cx="290.37" cy="381.3" r="2.08"/><circle cx="292.1" cy="387.15" r="2.08"/><circle cx="293.84" cy="390.2" r="2.08"/><circle cx="295.59" cy="379.47" r="2.08"/><circle cx="297.34" cy="381.28" r="2.08"/><circle cx="299.09" cy="383.21" r="2.08"/><circle cx="300.85" cy="387.01" r="2.08"/><circle cx="302.62" cy="391.48" r="2.08"/><circle cx="304.4" cy="396.69" r="2.08"/><circle cx="306.18" cy="397.21" r="2.08"/><circle cx="307.97" cy="396.6" r="2.08"/><circle cx="309.76" cy="395.77" r="2.08"/><circle cx="311.56" cy="396.94" r="2.08"/><circle cx="313.37" cy="398.57" r="2.08"/><circle cx="315.19" cy="395.88" r="2.08"/><circle cx="317.01" cy="397.86" r="2.08"/><circle cx="318.84" cy="400.06" r="2.08"/><circle cx="320.67" cy="396.48" r="2.08"/><circle cx="322.51" cy="397" r="2.08"/><circle cx="324.36" cy="399.8" r="2.08"/><circle cx="326.21" cy="398.73" r="2.08"/><circle cx="328.07" cy="399.53" r="2.08"/><circle cx="329.94" cy="402.96" r="2.08"/><circle cx="331.82" cy="398.56" r="2.08"/><circle cx="333.7" cy="398.24" r="2.08"/><circle cx="335.59" cy="396.31" r="2.08"/><circle cx="337.49" cy="390.67" r="2.08"/><circle cx="339.39" cy="392.68" r="2.08"/><circle cx="341.3" cy="394.14" r="2.08"/><circle cx="345" cy="389.4" r="2.08"/><circle cx="347.25" cy="378.1" r="2.08"/><circle cx="349.6" cy="371.9" r="2.08"/><circle cx="351.6" cy="368.1" r="2.08"/><circle cx="353.25" cy="380" r="2.08"/><circle cx="355.4" cy="386.25" r="2.08"/><circle cx="357.25" cy="375.6" r="2.08"/><circle cx="359.5" cy="378.1" r="2.08"/><circle cx="361.4" cy="371.25" r="2.08"/><circle cx="363.5" cy="349.75" r="2.08"/><circle cx="365.4" cy="343.1" r="2.08"/><circle cx="367.5" cy="362.25" r="2.08"/><circle cx="369.5" cy="385" r="2.08"/><circle cx="371.6" cy="389.4" r="2.08"/><circle cx="372.87" cy="398.08" r="2.08"/><circle cx="374.9" cy="401.76" r="2.08"/><circle cx="376.95" cy="403.05" r="2.08"/><circle cx="379" cy="403.22" r="2.08"/><circle cx="381.06" cy="400.6" r="2.08"/><circle cx="383.13" cy="401.02" r="2.08"/><circle cx="385.21" cy="403.59" r="2.08"/><circle cx="387.3" cy="405.71" r="2.08"/><circle cx="389.39" cy="403.92" r="2.08"/><circle cx="391.49" cy="402.33" r="2.08"/><circle cx="393.6" cy="403.44" r="2.08"/><circle cx="395.72" cy="404.25" r="2.08"/><circle cx="397.85" cy="402.65" r="2.08"/><circle cx="399.98" cy="403.38" r="2.08"/><circle cx="402.13" cy="405.29" r="2.08"/><circle cx="404.28" cy="408.11" r="2.08"/><circle cx="406.44" cy="404.31" r="2.08"/><circle cx="408.61" cy="402.98" r="2.08"/><circle cx="410.79" cy="405.3" r="2.08"/><circle cx="412.98" cy="404.3" r="2.08"/><circle cx="415.17" cy="402.84" r="2.08"/><circle cx="417.38" cy="403.21" r="2.08"/><circle cx="419.59" cy="401.39" r="2.08"/><circle cx="421.81" cy="403.44" r="2.08"/><circle cx="424.04" cy="403.03" r="2.08"/><circle cx="426.28" cy="404.51" r="2.08"/><circle cx="428.53" cy="402.47" r="2.08"/><circle cx="430.79" cy="405.26" r="2.08"/><circle cx="433.06" cy="403.27" r="2.08"/><circle cx="436.3" cy="397.2" r="2.08"/><circle cx="439.1" cy="389.1" r="2.08"/><circle cx="441" cy="369" r="2.08"/><circle cx="443.4" cy="359.7" r="2.08"/><circle cx="446.25" cy="369" r="2.08"/><circle cx="448.5" cy="395.3" r="2.08"/><circle cx="450.4" cy="398.1" r="2.08"/><circle cx="453.89" cy="405.5" r="2.08"/><circle cx="456.26" cy="410.48" r="2.08"/><circle cx="458.63" cy="410.58" r="2.08"/><circle cx="461.01" cy="407.83" r="2.08"/><circle cx="463.4" cy="410.15" r="2.08"/><circle cx="465.81" cy="408.85" r="2.08"/><circle cx="468.22" cy="409.14" r="2.08"/><circle cx="470.64" cy="404.76" r="2.08"/><circle cx="473.08" cy="408.57" r="2.08"/><circle cx="475.52" cy="411.09" r="2.08"/><circle cx="477.97" cy="411.99" r="2.08"/><circle cx="480.44" cy="411.83" r="2.08"/><circle cx="482.91" cy="414.11" r="2.08"/><circle cx="485.4" cy="414.58" r="2.08"/><circle cx="487.89" cy="416.44" r="2.08"/><circle cx="490.4" cy="413.48" r="2.08"/><circle cx="492.92" cy="413.3" r="2.08"/><circle cx="495.44" cy="412.78" r="2.08"/><circle cx="497.98" cy="413.86" r="2.08"/><circle cx="500.53" cy="414.51" r="2.08"/><circle cx="503.09" cy="413.88" r="2.08"/><circle cx="505.67" cy="416.16" r="2.08"/><circle cx="508.25" cy="413.87" r="2.08"/><circle cx="510.84" cy="414.38" r="2.08"/><circle cx="513.45" cy="415.54" r="2.08"/><circle cx="516.07" cy="414.4" r="2.08"/><circle cx="518.7" cy="416.72" r="2.08"/><circle cx="521.34" cy="416.07" r="2.08"/><circle cx="523.99" cy="418.81" r="2.08"/><circle cx="526.65" cy="415.91" r="2.08"/><circle cx="529.33" cy="416.5" r="2.08"/><circle cx="532.02" cy="418.54" r="2.08"/><circle cx="534.71" cy="416.53" r="2.08"/><circle cx="537.43" cy="419.77" r="2.08"/><circle cx="540.15" cy="415.65" r="2.08"/><circle cx="542.88" cy="414.54" r="2.08"/><circle cx="545.63" cy="417.95" r="2.08"/><circle cx="548.39" cy="416.7" r="2.08"/><circle cx="551.17" cy="419.8" r="2.08"/></g>
<polyline class="md" points="102.5,382.2 103.63,382.2 104.76,382.2 105.89,382.21 107.02,382.21 108.15,382.21 109.28,382.21 110.41,382.22 111.54,382.22 112.67,382.22 113.8,382.22 114.93,382.23 116.06,382.23 117.19,382.24 118.32,382.24 119.45,382.24 120.59,382.25 121.72,382.25 122.85,382.26 123.98,382.26 125.11,382.27 126.24,382.27 127.37,382.28 128.5,382.28 129.63,382.29 130.76,382.29 131.89,382.3 133.02,382.3 134.15,382.31 135.28,382.32 136.41,382.32 137.54,382.33 138.67,382.33 139.8,382.34 140.93,382.35 142.06,382.35 143.19,382.36 144.32,382.37 145.45,382.37 146.58,382.38 147.71,382.39 148.84,382.39 149.97,382.4 151.1,382.41 152.23,382.41 153.36,382.42 154.49,382.42 155.63,382.43 156.76,382.43 157.89,382.44 159.02,382.44 160.15,382.45 161.28,382.45 162.41,382.46 163.54,382.46 164.67,382.47 165.8,382.47 166.93,382.48 168.06,382.49 169.19,382.5 170.32,382.51 171.45,382.52 172.58,382.53 173.71,382.54 174.84,382.55 175.97,382.56 177.1,382.58 178.23,382.6 179.36,382.61 180.49,382.63 181.62,382.65 182.75,382.68 183.88,382.7 185.01,382.73 186.14,382.76 187.27,383.15 188.4,383.96 189.54,384.95 190.67,385.9 191.8,386.6 192.93,387.2 194.06,387.8 195.19,388.31 196.32,388.65 197.45,388.75 198.58,388.64 199.71,388.41 200.84,388.12 201.97,387.82 203.1,387.57 204.23,387.42 205.36,387.41 206.49,387.46 207.62,387.56 208.75,387.69 209.88,387.83 211.01,387.98 212.14,388.13 213.27,388.25 214.4,388.35 215.53,388.39 216.66,388.4 217.79,388.4 218.92,388.4 220.05,388.4 221.18,388.4 222.31,388.4 223.44,388.4 224.58,388.4 225.71,388.4 226.84,388.4 227.97,388.4 229.1,388.4 230.23,388.4 231.36,388.4 232.49,388.4 233.62,388.4 234.75,388.4 235.88,388.4 237.01,388.4 238.14,388.4 239.27,388.4 240.4,388.4 241.53,388.4 242.66,388.4 243.79,388.4 244.92,388.41 246.05,388.43 247.18,388.45 248.31,388.48 249.44,388.52 250.57,388.57 251.7,388.62 252.83,388.67 253.96,388.72 255.09,388.78 256.22,388.83 257.35,388.89 258.48,388.94 259.62,389 260.75,389.04 261.88,389.09 263.01,389.13 264.14,389.17 265.27,389.21 266.4,389.26 267.53,389.31 268.66,389.36 269.79,389.41 270.92,389.45 272.05,389.5 273.18,389.54 274.31,389.58 275.44,389.61 276.57,389.64 277.7,389.67 278.83,389.69 279.96,389.7 281.09,389.7 282.22,389.7 283.35,389.7 284.48,389.7 285.61,389.7 286.74,389.7 287.87,389.7 289,389.7 290.13,389.7 291.26,389.7 292.39,389.7 293.53,389.7 294.66,389.7 295.79,389.7 296.92,389.7 298.05,389.7 299.18,389.7 300.31,389.71 301.44,389.79 302.57,389.93 303.7,390.13 304.83,390.36 305.96,390.61 307.09,390.87 308.22,391.12 309.35,391.34 310.48,391.53 311.61,391.67 312.74,391.78 313.87,391.88 315,391.99 316.13,392.12 317.26,392.29 318.39,392.5 319.52,392.74 320.65,393 321.78,393.26 322.91,393.5 324.04,393.7 325.17,393.87 326.3,393.97 327.43,394 328.57,394 329.7,394 330.83,394 331.96,394 333.09,394 334.22,394 335.35,394 336.48,394 337.61,394 338.74,394 339.87,394 341,394 342.13,394 343.26,394 344.39,394 345.52,394.01 346.65,394.03 347.78,394.07 348.91,394.12 350.04,394.18 351.17,394.25 352.3,394.33 353.43,394.42 354.56,394.52 355.69,394.63 356.82,394.74 357.95,394.86 359.08,394.99 360.21,395.12 361.34,395.26 362.47,395.4 363.61,395.55 364.74,395.7 365.87,395.88 367,396.12 368.13,396.4 369.26,396.71 370.39,397.04 371.52,397.38 372.65,397.71 373.78,398.02 374.91,398.31 376.04,398.64 377.17,398.98 378.3,399.32 379.43,399.66 380.56,399.99 381.69,400.28 382.82,400.53 383.95,400.74 385.08,400.87 386.21,400.96 387.34,401.03 388.47,401.1 389.6,401.17 390.73,401.23 391.86,401.29 392.99,401.34 394.12,401.38 395.25,401.42 396.38,401.45 397.52,401.47 398.65,401.49 399.78,401.5 400.91,401.5 402.04,401.49 403.17,401.46 404.3,401.43 405.43,401.39 406.56,401.35 407.69,401.3 408.82,401.24 409.95,401.19 411.08,401.14 412.21,401.08 413.34,401.04 414.47,400.99 415.6,400.96 416.73,400.93 417.86,400.91 418.99,400.9 420.12,400.91 421.25,400.93 422.38,400.96 423.51,401.01 424.64,401.07 425.77,401.14 426.9,401.22 428.03,401.3 429.16,401.39 430.29,401.49 431.42,401.6 432.56,401.7 433.69,401.81 434.82,401.92 435.95,402.04 437.08,402.15 438.21,402.28 439.34,402.44 440.47,402.62 441.6,402.81 442.73,403.02 443.86,403.22 444.99,403.43 446.12,403.64 447.25,403.83 448.38,404.02 449.51,404.18 450.64,404.33 451.77,404.45 452.9,404.57 454.03,404.67 455.16,404.76 456.29,404.85 457.42,404.95 458.55,405.04 459.68,405.14 460.81,405.26 461.94,405.39 463.07,405.54 464.2,405.71 465.33,405.93 466.46,406.19 467.6,406.48 468.73,406.79 469.86,407.14 470.99,407.5 472.12,407.93 473.25,408.47 474.38,409.07 475.51,409.67 476.64,410.22 477.77,410.68 478.9,411 480.03,411.26 481.16,411.49 482.29,411.7 483.42,411.89 484.55,412.04 485.68,412.17 486.81,412.27 487.94,412.36 489.07,412.44 490.2,412.51 491.33,412.57 492.46,412.63 493.59,412.68 494.72,412.73 495.85,412.79 496.98,412.84 498.11,412.91 499.24,412.97 500.37,413.05 501.51,413.14 502.64,413.24 503.77,413.36 504.9,413.48 506.03,413.61 507.16,413.75 508.29,413.89 509.42,414.03 510.55,414.17 511.68,414.3 512.81,414.44 513.94,414.58 515.07,414.72 516.2,414.87 517.33,415.02 518.46,415.16 519.59,415.3 520.72,415.43 521.85,415.54 522.98,415.64 524.11,415.74 525.24,415.84 526.37,415.94 527.5,416.03 528.63,416.11 529.76,416.18 530.89,416.22 532.02,416.25 533.15,416.25 534.28,416.25 535.41,416.25 536.55,416.25 537.68,416.25 538.81,416.25 539.94,416.25 541.07,416.25 542.2,416.25 543.33,416.26 544.46,416.28 545.59,416.32 546.72,416.37 547.85,416.43 548.98,416.51 550.11,416.59 551.24,416.68 552.37,416.78 553.5,416.88"/>
<path class="tk" d="M103.5 427.5v4.86M159.5 427.5v4.86M215.5 427.5v4.86M271.5 427.5v4.86M328.5 427.5v4.86M384.5 427.5v4.86M440.5 427.5v4.86M496.5 427.5v4.86M552.5 427.5v4.86M80.5 425.5h-4.86M80.5 389.5h-4.86M80.5 354.5h-4.86M80.5 318.5h-4.86M80.5 282.5h-4.86"/>
<rect class="sp" x="80.5" y="273.5" width="496" height="154"/>
<text class="t10 mid" x="103.1" y="448">1.4</text>
<text class="t10 mid" x="159.22" y="448">1.5</text>
<text class="t10 mid" x="215.34" y="448">1.6</text>
<text class="t10 mid" x="271.46" y="448">1.7</text>
<text class="t10 mid" x="327.58" y="448">1.8</text>
<text class="t10 mid" x="383.7" y="448">1.9</text>
<text class="t10 mid" x="439.82" y="448">2.0</text>
<text class="t10 mid" x="495.94" y="448">2.1</text>
<text class="t10 mid" x="552.06" y="448">2.2</text>
<text class="t10 end" x="69.9" y="430.58">0.0</text>
<text class="t10 end" x="69.9" y="394.68">0.5</text>
<text class="t10 end" x="69.9" y="358.78">1.0</text>
<text class="t10 end" x="69.9" y="322.88">1.5</text>
<text class="t10 end" x="69.9" y="287.58">2.0</text>
<text class="t10 mid" x="328" y="466.6">Energy (keV)</text>
<text class="t10 mid" transform="translate(39.75 351.2) rotate(-90)">Counts/sec/keV</text>
<text class="t12 mid" x="328" y="265.3">pha2[#row=3,4]</text>
</g>
</svg>
</body>
</html>
